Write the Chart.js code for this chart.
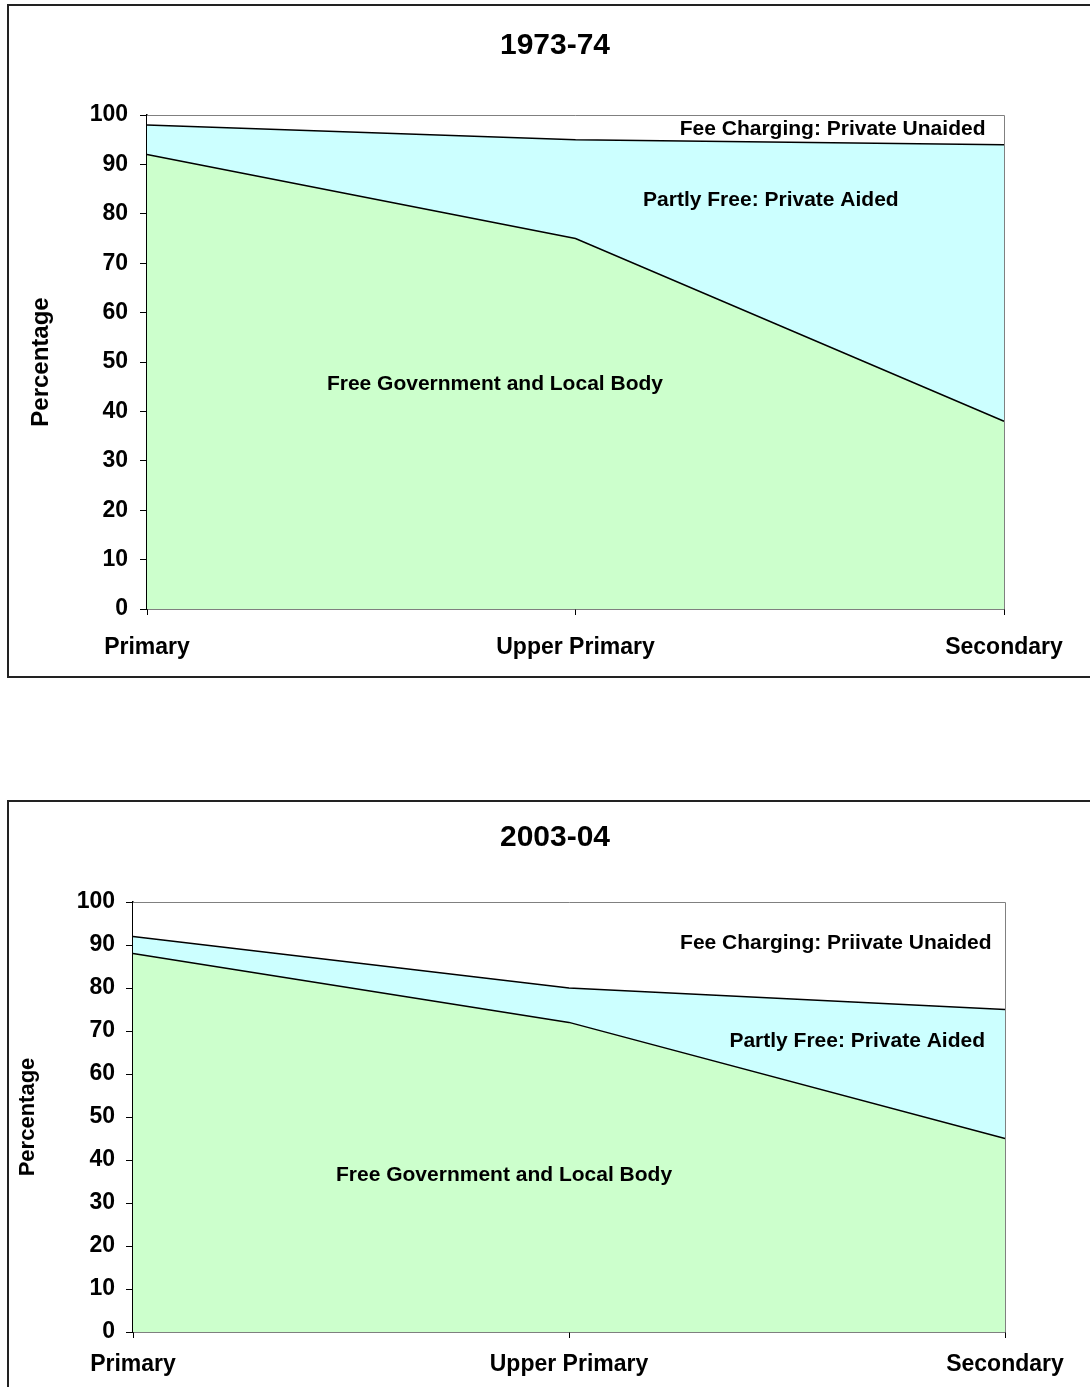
<!DOCTYPE html>
<html>
<head>
<meta charset="utf-8">
<script src="https://cdn.jsdelivr.net/npm/chart.js@4"></script>
<style>
  html, body { margin: 0; padding: 0; background: #fff; overflow: hidden; width: 1090px; height: 1387px; }
  .box { position: absolute; left: 7px; width: 1200px; border: 2px solid #222; background: #fff; }
  .box canvas { display: block; }
</style>
</head>
<body>
<div class="box" style="top:4px;height:670px"><canvas id="ch-1973" width="1092" height="670"></canvas></div>
<div class="box" style="top:800px;height:640px"><canvas id="ch-2003" width="1092" height="600"></canvas></div>
<script>
const categories = ['Primary', 'Upper Primary', 'Secondary']

// shares (%) stacked bottom to top
const gov1973 = [92, 75, 38]
const aided1973 = [6, 20, 56]
const unaided1973 = [2, 5, 6]

const gov2003 = [88, 72, 45]
const aided2003 = [4, 8, 30]
const unaided2003 = [8, 20, 25]

const FONT = "'Liberation Sans', Arial, sans-serif"

// text labels placed in data space: [text, x index, y value]
const labels1973 = [
  ['Fee Charging: Private Unaided', 1.60, 97.2],
  ['Partly Free: Private Aided', 1.456, 82.8],
  ['Free Government and Local Body', 0.812, 45.5]
]
const labels2003 = [
  ['Fee Charging: Priivate Unaided', 1.612, 90.5],
  ['Partly Free: Private Aided', 1.661, 67.7],
  ['Free Government and Local Body', 0.851, 36.5]
]

const areaLabels = {
  id: 'areaLabels',
  afterDatasetsDraw(chart, args, opts) {
    const { ctx, chartArea: a, scales: { x, y } } = chart
    // plot border top + right
    ctx.save()
    ctx.strokeStyle = '#808080'
    ctx.lineWidth = 1
    ctx.beginPath()
    ctx.moveTo(a.left, a.top + 0.5)
    ctx.lineTo(a.right + 0.5, a.top + 0.5)
    ctx.lineTo(a.right + 0.5, a.bottom)
    ctx.stroke()
    ctx.font = `bold ${opts.size}px ${FONT}`
    ctx.fillStyle = '#000'
    ctx.textAlign = 'center'
    ctx.textBaseline = 'middle'
    opts.items.forEach(([t, xv, yv]) => ctx.fillText(t, x.getPixelForValue(xv), y.getPixelForValue(yv)))
    ctx.restore()
  }
}

function makeChart(id, title, gov, aided, unaided, cfg) {
  return new Chart(document.getElementById(id), {
    type: 'line',
    data: {
      labels: categories,
      datasets: [
        { label: 'Free Government and Local Body', data: gov, fill: 'origin', backgroundColor: '#CCFFCC', borderColor: '#000', borderWidth: 1.5, pointRadius: 0, tension: 0 },
        { label: 'Partly Free: Private Aided', data: aided, fill: '-1', backgroundColor: '#CCFFFF', borderColor: '#000', borderWidth: 1.5, pointRadius: 0, tension: 0 },
        { label: 'Fee Charging: Private Unaided', data: unaided, fill: '-1', backgroundColor: '#FFFFFF', borderColor: 'rgba(0,0,0,0)', borderWidth: 0, pointRadius: 0, tension: 0 }
      ]
    },
    options: {
      responsive: false,
      animation: false,
      layout: { padding: 0 },
      plugins: {
        legend: { display: false },
        tooltip: { enabled: false },
        title: { display: true, text: title, color: '#000', font: { family: FONT, size: 30, weight: 'bold' }, padding: { top: cfg.titleTop, bottom: cfg.titleBottom } },
        areaLabels: { items: cfg.items, size: 21 }
      },
      scales: {
        x: {
          offset: false,
          grid: { display: true, drawOnChartArea: false, drawTicks: true, tickLength: 6, color: '#000' },
          border: { display: true, color: '#000', width: 1.5 },
          ticks: { color: '#000', padding: cfg.xPad, maxRotation: 0, autoSkip: false, font: { family: FONT, size: 23, weight: 'bold' } },
          afterFit: s => { s.height = cfg.xH }
        },
        y: {
          stacked: true,
          min: 0, max: 100,
          grid: { display: true, drawOnChartArea: false, drawTicks: true, tickLength: 7, color: '#000' },
          border: { display: true, color: '#000', width: 1.5 },
          ticks: { stepSize: 10, color: '#000', padding: cfg.yPad, font: { family: FONT, size: 23, weight: 'bold' } },
          title: { display: true, text: 'Percentage', color: '#000', padding: { top: cfg.yTitlePad, bottom: 0 }, font: { family: FONT, size: cfg.yTitleSize, weight: 'bold' } },
          afterFit: s => { s.width = cfg.yW }
        },
        // empty right-hand axis that only reserves space to the right of the plot
        yRight: {
          position: 'right',
          min: 0, max: 100,
          grid: { display: false },
          border: { display: false },
          ticks: { display: false },
          afterFit: s => { s.width = cfg.rightW }
        }
      }
    },
    plugins: [areaLabels]
  })
}

makeChart('ch-1973', '1973-74', gov1973, aided1973, unaided1973, {
  rightW: 97, titleTop: 22, titleBottom: 51, xPad: 19, xH: 67, yPad: 12, yW: 138, yTitlePad: 18, yTitleSize: 24, items: labels1973
})
makeChart('ch-2003', '2003-04', gov2003, aided2003, unaided2003, {
  rightW: 96, titleTop: 18, titleBottom: 46, xPad: 13, xH: 70, yPad: 11, yW: 124, yTitlePad: 6, yTitleSize: 22, items: labels2003
})
</script>
</body>
</html>
